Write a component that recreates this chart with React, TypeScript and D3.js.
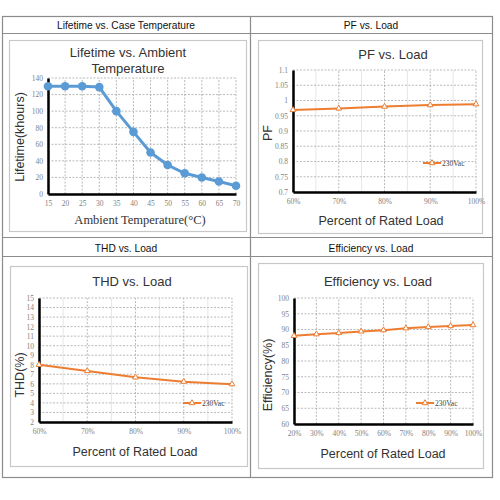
// @ts-nocheck
import React, { useEffect, useRef } from "react";
import * as d3 from "d3";

// Lifetime vs. ambient temperature
const tempC = [15, 20, 25, 30, 35, 40, 45, 50, 55, 60, 65, 70];
const lifetimeK = [130, 130, 130, 129, 100, 75, 50, 35, 25, 20, 15, 10];

// PF vs. load
const pfLoad = [60, 70, 80, 90, 100];
const pfValues = [0.969, 0.974, 0.98, 0.985, 0.988];

// THD vs. load
const thdLoad = [60, 70, 80, 90, 100];
const thdValues = [8, 7.35, 6.68, 6.23, 5.97];

// Efficiency vs. load
const effLoad = [20, 30, 40, 50, 60, 70, 80, 90, 100];
const effValues = [88, 88.5, 88.9, 89.4, 89.8, 90.4, 90.8, 91.1, 91.4];

const sans = "Liberation Sans, Arial, sans-serif";
const serif = "Liberation Serif, Times New Roman, serif";
const BLUE = "#5B9BD5";
const ORANGE = "#ED7D31";

function drawChart(svg, c) {
  const g = svg.append("g");
  const x = d3.scaleLinear().domain(c.xDomain).range(c.xRange);
  const y = d3.scaleLinear().domain(c.yDomain).range(c.yRange);

  // frame
  g.append("rect")
    .attr("x", c.frame[0] + 0.5)
    .attr("y", c.frame[1] + 0.5)
    .attr("width", c.frame[2] - c.frame[0])
    .attr("height", c.frame[3] - c.frame[1])
    .attr("fill", "#fff")
    .attr("stroke", "#c8c8c8")
    .attr("stroke-width", 1.2);

  // minor vertical grid
  if (c.minorX) {
    g.selectAll(".minor")
      .data(c.minorX)
      .join("line")
      .attr("x1", d => x(d))
      .attr("x2", d => x(d))
      .attr("y1", c.yRange[0])
      .attr("y2", c.yRange[1])
      .attr("stroke", "#e6e6e6")
      .attr("stroke-width", 1);
  }

  // grid
  g.selectAll(".hgrid")
    .data(c.yTicks)
    .join("line")
    .attr("x1", c.xRange[0])
    .attr("x2", c.xRange[1])
    .attr("y1", d => y(d))
    .attr("y2", d => y(d))
    .attr("stroke", "#a8a8a8")
    .attr("stroke-width", 0.8)
    .attr("stroke-dasharray", "2,1.5");
  g.selectAll(".vgrid")
    .data(c.xTicks)
    .join("line")
    .attr("x1", d => x(d))
    .attr("x2", d => x(d))
    .attr("y1", c.yRange[0])
    .attr("y2", c.yRange[1])
    .attr("stroke", "#a8a8a8")
    .attr("stroke-width", 0.8)
    .attr("stroke-dasharray", "2,1.5");

  // y axis
  const ya = g.append("g")
    .attr("transform", `translate(${c.xRange[0]},0)`)
    .call(d3.axisLeft(y).tickValues(c.yTicks).tickSize(0).tickPadding(5).tickFormat(c.yFormat));
  ya.select(".domain").attr("stroke", "#000").attr("stroke-width", 2.5);
  ya.selectAll("text").attr("fill", "#7f7f7f").attr("font-size", 7.5).attr("font-family", serif);

  // x axis
  const xa = g.append("g")
    .attr("transform", `translate(0,${c.yRange[0]})`)
    .call(d3.axisBottom(x).tickValues(c.xTicks).tickSize(0).tickPadding(7).tickFormat(c.xFormat));
  xa.select(".domain").attr("stroke", "#000").attr("stroke-width", 2.5);
  xa.selectAll("text").attr("fill", "#7f7f7f").attr("font-size", 7.5).attr("font-family", serif);

  // series
  const line = d3.line().x(d => x(d[0])).y(d => y(d[1]));
  const pts = c.xs.map((v, i) => [v, c.ys[i]]);
  g.append("path")
    .datum(pts)
    .attr("fill", "none")
    .attr("stroke", c.color)
    .attr("stroke-width", c.lineWidth)
    .attr("stroke-linejoin", "round")
    .attr("d", line);

  const tri = d3.symbol().type(d3.symbolTriangle).size(14);
  if (c.marker === "circle") {
    g.selectAll(".pt")
      .data(pts)
      .join("circle")
      .attr("cx", d => x(d[0]))
      .attr("cy", d => y(d[1]))
      .attr("r", 4.3)
      .attr("fill", c.color);
  } else {
    g.selectAll(".pt")
      .data(pts)
      .join("path")
      .attr("transform", d => `translate(${x(d[0])},${y(d[1])})`)
      .attr("d", tri)
      .attr("fill", "#fff")
      .attr("stroke", c.color)
      .attr("stroke-width", 1);
  }

  // legend
  if (c.legend) {
    const [lx, ly] = c.legend;
    g.append("line")
      .attr("x1", lx).attr("x2", lx + 18)
      .attr("y1", ly).attr("y2", ly)
      .attr("stroke", c.color).attr("stroke-width", 2);
    g.append("path")
      .attr("transform", `translate(${lx + 9},${ly})`)
      .attr("d", tri)
      .attr("fill", "#fff")
      .attr("stroke", c.color)
      .attr("stroke-width", 1);
    g.append("text")
      .attr("x", lx + 19)
      .attr("y", ly + 2.5)
      .attr("font-size", 7.5)
      .attr("font-family", serif)
      .attr("fill", "#444")
      .text("230Vac");
  }

  // titles
  c.title.forEach((t, i) => {
    g.append("text")
      .attr("x", c.titlePos[0])
      .attr("y", c.titlePos[1] + i * 16)
      .attr("text-anchor", "middle")
      .attr("font-size", 13)
      .attr("font-family", sans)
      .attr("fill", "#333")
      .text(t);
  });
  g.append("text")
    .attr("x", c.xLabelPos[0])
    .attr("y", c.xLabelPos[1])
    .attr("text-anchor", "middle")
    .attr("font-size", c.xLabelSize)
    .attr("font-family", c.xLabelFont)
    .attr("fill", "#333")
    .text(c.xLabel);
  g.append("text")
    .attr("transform", `translate(${c.yLabelPos[0]},${c.yLabelPos[1]}) rotate(-90)`)
    .attr("text-anchor", "middle")
    .attr("font-size", 12.5)
    .attr("font-family", sans)
    .attr("fill", "#333")
    .text(c.yLabel);
}

const App = () => {
  const ref = useRef();
  useEffect(() => {
    const svg = d3.select(ref.current);
    svg.selectAll("*").remove();

    // outer table
    svg.append("rect")
      .attr("x", 2.5).attr("y", 16.5).attr("width", 490).attr("height", 461)
      .attr("fill", "#fff").attr("stroke", "#8c8c8c").attr("stroke-width", 1.2);
    [33.5, 237.5, 256.5].forEach(yy =>
      svg.append("line").attr("x1", 2.5).attr("x2", 492.5).attr("y1", yy).attr("y2", yy)
        .attr("stroke", "#8c8c8c").attr("stroke-width", 1.2)
    );
    svg.append("line").attr("x1", 250.5).attr("x2", 250.5).attr("y1", 16.5).attr("y2", 477.5)
      .attr("stroke", "#8c8c8c").attr("stroke-width", 1.2);
    const headers = [
      ["Lifetime vs. Case Temperature", 126, 29],
      ["PF vs. Load", 371, 29],
      ["THD vs. Load", 126, 252],
      ["Efficiency vs. Load", 371, 252],
    ];
    headers.forEach(([t, hx, hy]) =>
      svg.append("text").attr("x", hx).attr("y", hy).attr("text-anchor", "middle")
        .attr("font-size", 10.2).attr("font-family", sans).attr("fill", "#111").text(t)
    );

    const pct = d => `${d}%`;

    drawChart(svg, {
      frame: [9, 40, 246, 231],
      xDomain: [15, 70], xRange: [48, 236],
      yDomain: [0, 140], yRange: [194, 78],
      xTicks: tempC, yTicks: d3.range(0, 141, 20),
      xFormat: d => d, yFormat: d => d,
      xs: tempC, ys: lifetimeK,
      color: BLUE, lineWidth: 3, marker: "circle",
      title: ["Lifetime vs. Ambient", "Temperature"], titlePos: [128, 57],
      xLabel: "Ambient Temperature(°C)", xLabelPos: [140, 224], xLabelSize: 12.5, xLabelFont: serif,
      yLabel: "Lifetime(khours)", yLabelPos: [24, 137],
    });

    drawChart(svg, {
      frame: [258, 40, 482, 233],
      xDomain: [60, 100], xRange: [293, 476],
      yDomain: [0.7, 1.1], yRange: [192, 70],
      xTicks: pfLoad, yTicks: d3.range(0, 9).map(i => +(0.7 + i * 0.05).toFixed(2)),
      minorX: [65, 75, 85, 95],
      xFormat: pct, yFormat: d => d,
      xs: pfLoad, ys: pfValues,
      color: ORANGE, lineWidth: 2, marker: "tri",
      legend: [423, 163],
      title: ["PF vs. Load"], titlePos: [393, 59],
      xLabel: "Percent of Rated Load", xLabelPos: [381, 225], xLabelSize: 12.5, xLabelFont: sans,
      yLabel: "PF", yLabelPos: [272, 133],
    });

    drawChart(svg, {
      frame: [10, 266, 247, 466],
      xDomain: [60, 100], xRange: [39, 232],
      yDomain: [2, 15], yRange: [422, 298],
      xTicks: thdLoad, yTicks: d3.range(2, 16),
      minorX: [65, 75, 85, 95],
      xFormat: pct, yFormat: d => d,
      xs: thdLoad, ys: thdValues,
      color: ORANGE, lineWidth: 2, marker: "tri",
      legend: [183, 403],
      title: ["THD vs. Load"], titlePos: [132, 286],
      xLabel: "Percent of Rated Load", xLabelPos: [135, 456], xLabelSize: 12.5, xLabelFont: sans,
      yLabel: "THD(%)", yLabelPos: [24, 375],
    });

    drawChart(svg, {
      frame: [258, 263, 483, 468],
      xDomain: [20, 100], xRange: [294, 473],
      yDomain: [60, 100], yRange: [424, 298],
      xTicks: effLoad, yTicks: d3.range(60, 101, 5),
      xFormat: pct, yFormat: d => d,
      xs: effLoad, ys: effValues,
      color: ORANGE, lineWidth: 2, marker: "tri",
      legend: [416, 403],
      title: ["Efficiency vs. Load"], titlePos: [378, 286],
      xLabel: "Percent of Rated Load", xLabelPos: [383, 458], xLabelSize: 12.5, xLabelFont: sans,
      yLabel: "Efficiency(%)", yLabelPos: [272, 375],
    });
  }, []);

  return (
    <svg
      ref={ref}
      width={500}
      height={500}
      style={{ position: "absolute", left: 0, top: 0, background: "#fff" }}
    />
  );
};

export default App;
